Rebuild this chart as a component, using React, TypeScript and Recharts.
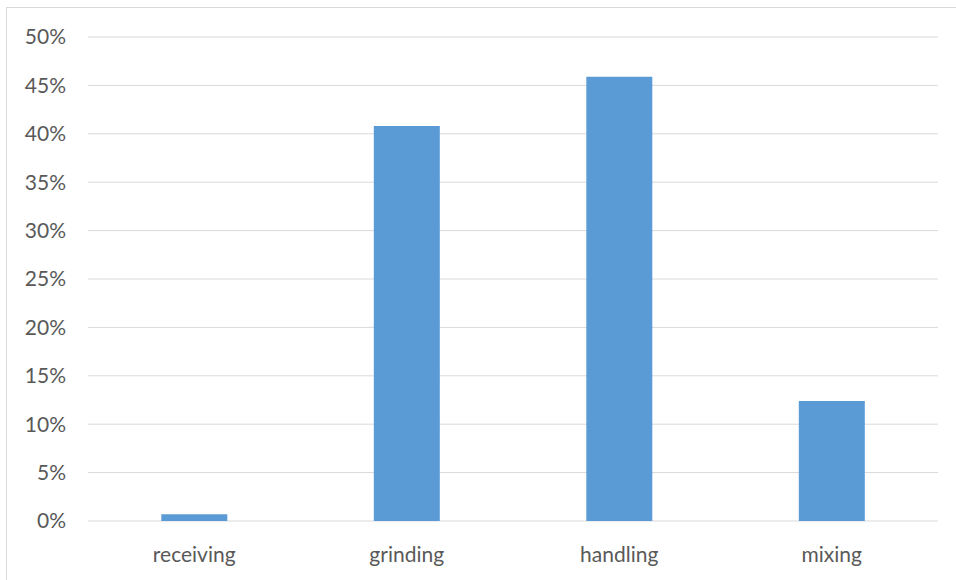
import React from 'react';
import { BarChart, Bar, XAxis, YAxis, CartesianGrid } from 'recharts';

// share of total, in percent
const stages = ['receiving', 'grinding', 'handling', 'mixing'];
const shares = [0.7, 40.8, 45.9, 12.4];
const yTicks = [0, 5, 10, 15, 20, 25, 30, 35, 40, 45, 50];

const data = stages.map((name, i) => ({ name, share: shares[i] }));

const FONT = 'Lato, "Open Sans", sans-serif';
const TEXT = '#595959';
const GRID = '#D9D9D9';

export default function App() {
  return (
    <div
      style={{
        position: 'absolute',
        left: 0,
        top: 0,
        width: 956,
        height: 580,
        overflow: 'hidden',
        background: '#fff',
      }}
    >
      {/* chart frame, its right and bottom edges run past the view */}
      <div
        style={{
          position: 'absolute',
          left: 6,
          top: 7,
          width: 1000,
          height: 1000,
          border: `1px solid ${GRID}`,
          boxSizing: 'border-box',
        }}
      />
      <div style={{ position: 'absolute', left: 0, top: 0 }}>
        <BarChart
          width={956}
          height={580}
          data={data}
          margin={{ top: 37, right: 18, bottom: 0, left: 0 }}
          barCategoryGap="34.5%"
        >
          <CartesianGrid vertical={false} stroke={GRID} strokeWidth={1} />
          <XAxis
            dataKey="name"
            axisLine={false}
            tickLine={false}
            tickSize={0}
            tickMargin={26}
            height={59}
            tick={{ fill: TEXT, fontSize: 21, fontFamily: FONT }}
          />
          <YAxis
            type="number"
            domain={[0, 50]}
            ticks={yTicks}
            tickFormatter={(v: number) => `${v}%`}
            axisLine={false}
            tickLine={false}
            tickSize={0}
            tickMargin={22}
            width={88}
            tick={{ fill: TEXT, fontSize: 21, fontFamily: FONT }}
          />
          <Bar dataKey="share" fill="#5B9BD5" isAnimationActive={false} />
        </BarChart>
      </div>
    </div>
  );
}
